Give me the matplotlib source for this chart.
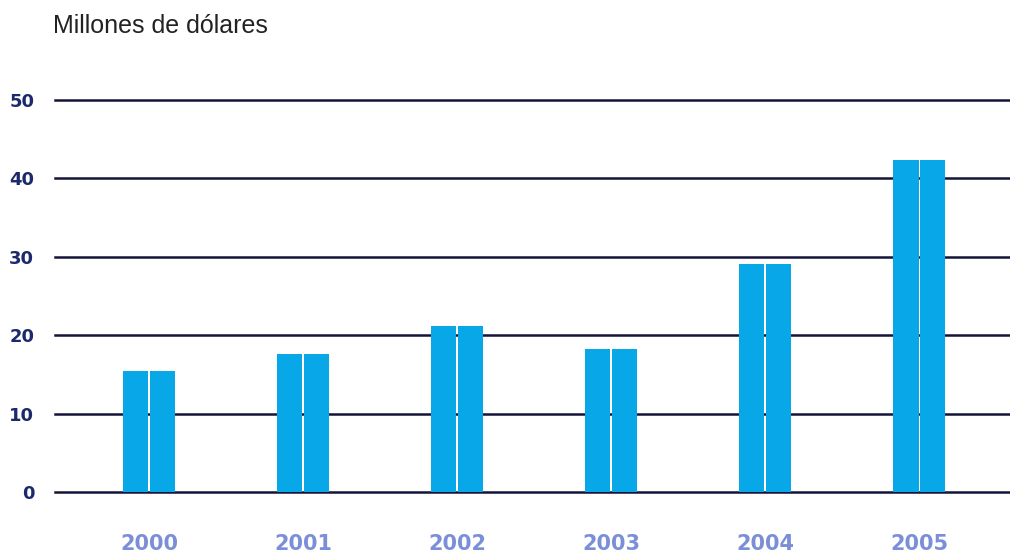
import matplotlib
matplotlib.use("Agg")
import matplotlib.pyplot as plt
import numpy as np

years = ["2000", "2001", "2002", "2003", "2004", "2005"]
values = [15.4, 17.6, 21.2, 18.3, 29.1, 42.3]
yticks = [0, 10, 20, 30, 40, 50]

fig = plt.figure(figsize=(10.10, 5.52), dpi=100)
ax = fig.add_axes([0.0545, 0.1087, 0.9455, 0.7101])

x = np.arange(len(years))
w = 0.35
ax.bar(x - w / 4, values, width=w / 2 - 0.008, color="#08a8e8", zorder=3)
ax.bar(x + w / 4, values, width=w / 2 - 0.008, color="#08a8e8", zorder=3)

for t in yticks:
    ax.axhline(t, color="#14143a", lw=1.8, zorder=1, clip_on=False)

ax.set_xlim(-0.61, 5.59)
ax.set_ylim(0, 50)
ax.set_yticks(yticks)
ax.set_yticklabels([str(t) for t in yticks],
                   fontdict=dict(family="DejaVu Sans", weight="bold",
                                 size=13, color="#1c2a6b"))
ax.set_xticks(x)
ax.set_xticklabels(years, fontdict=dict(family="DejaVu Sans", weight="bold",
                                        size=15, color="#7b8fd9"))
ax.tick_params(axis="y", length=0, pad=15)
ax.tick_params(axis="x", length=0, pad=30)
for s in ax.spines.values():
    s.set_visible(False)

fig.text(0.052, 1 - 26 / 552, "Millones de dólares", fontsize=18,
         family="Liberation Sans", color="#222222", va="center", ha="left")

fig.savefig("out.png", dpi=100)
